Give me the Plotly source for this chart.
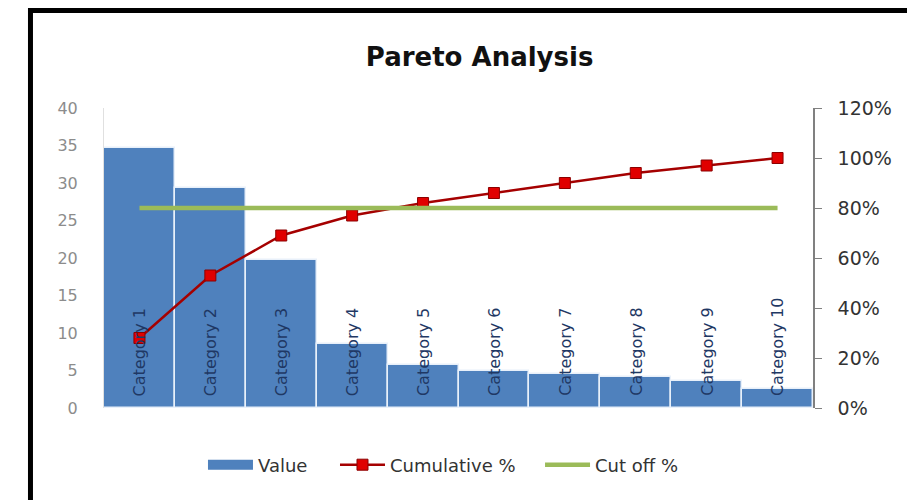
import plotly.graph_objects as go

categories = ["Category 1", "Category 2", "Category 3", "Category 4", "Category 5",
              "Category 6", "Category 7", "Category 8", "Category 9", "Category 10"]
values = [34.7, 29.3, 19.8, 8.6, 5.7, 4.9, 4.6, 4.1, 3.6, 2.5]
cumulative_pct = [0.28, 0.53, 0.69, 0.77, 0.82, 0.86, 0.90, 0.94, 0.97, 1.00]
cutoff_pct = [0.80] * 10
left_ticks = [0, 5, 10, 15, 20, 25, 30, 35, 40]
right_ticks = [0, 0.2, 0.4, 0.6, 0.8, 1.0, 1.2]
right_tick_labels = ["0%", "20%", "40%", "60%", "80%", "100%", "120%"]

FONT = "DejaVu Sans"
BAR_COLOR = "#4F81BD"

fig = go.Figure()
fig.add_trace(go.Bar(
    x=categories, y=values, name="Value", showlegend=False,
    marker=dict(color=BAR_COLOR, line=dict(color="#E8F0FA", width=1.5)),
    yaxis="y",
))
# legend-only entry giving the wide rectangular swatch of the bar series
fig.add_trace(go.Scatter(
    x=[None], y=[None], name="Value", mode="lines",
    line=dict(color=BAR_COLOR, width=10), legend="legend", hoverinfo="skip",
))
fig.add_trace(go.Scatter(
    x=categories, y=cumulative_pct, name="Cumulative %", mode="lines+markers",
    line=dict(color="#A50000", width=2.5),
    marker=dict(symbol="square", size=11, color="#E00000", line=dict(color="#8B0000", width=1)),
    yaxis="y2", legend="legend2",
))
fig.add_trace(go.Scatter(
    x=categories, y=cutoff_pct, name="Cut off %", mode="lines",
    line=dict(color="#9BBB59", width=4.5),
    yaxis="y2", legend="legend3",
))

annotations = []
for c in categories:
    annotations.append(dict(
        x=c, y=0, xref="x", yref="y", text=c, showarrow=False,
        textangle=-90, xanchor="center", yanchor="bottom", yshift=10,
        font=dict(family=FONT, size=16, color="#1F3864"),
    ))

shapes = [
    dict(type="line", xref="paper", yref="paper", x0=-0.1037, x1=1.3, y0=1.325, y1=1.325,
         line=dict(color="black", width=5)),
    dict(type="line", xref="paper", yref="paper", x0=-0.1037, x1=-0.1037, y0=1.335, y1=-0.4,
         line=dict(color="black", width=5)),
]

legend_font = dict(family=FONT, size=18, color="#333333")
legend_common = dict(orientation="h", y=-0.19, yanchor="middle", xanchor="left",
                     font=legend_font, itemwidth=45, bgcolor="rgba(0,0,0,0)")

fig.update_layout(
    width=907, height=492,
    margin=dict(l=96, r=102, t=100, b=92),
    paper_bgcolor="white", plot_bgcolor="white",
    font=dict(family=FONT, color="#404040"),
    title=dict(text="<b>Pareto Analysis</b>", x=0.520, xanchor="center", y=0.900, yanchor="middle",
               font=dict(family=FONT, size=26, color="#111111")),
    bargap=0.0,
    showlegend=True,
    legend=dict(x=0.1396, **legend_common),
    legend2=dict(x=0.3258, **legend_common),
    legend3=dict(x=0.6150, **legend_common),
    xaxis=dict(showticklabels=False, showgrid=False, zeroline=False, showline=False,
               ticks="", range=[-0.5, 9.5]),
    yaxis=dict(range=[0, 40], tickvals=left_ticks, showgrid=False, zeroline=False,
               showline=True, linecolor="#E0E0E0", linewidth=1, ticks="",
               tickfont=dict(family=FONT, size=16, color="#8C8C8C"), ticklabelstandoff=22),
    yaxis2=dict(range=[0, 1.2], tickvals=right_ticks, ticktext=right_tick_labels,
                overlaying="y", side="right", showgrid=False, zeroline=False,
                showline=True, linecolor="#808080", linewidth=1.5, ticks="outside",
                ticklen=7, tickcolor="#808080",
                tickfont=dict(family=FONT, size=19, color="#333333"), ticklabelstandoff=12),
    annotations=annotations,
    shapes=shapes,
)

fig.write_html("out.html")
